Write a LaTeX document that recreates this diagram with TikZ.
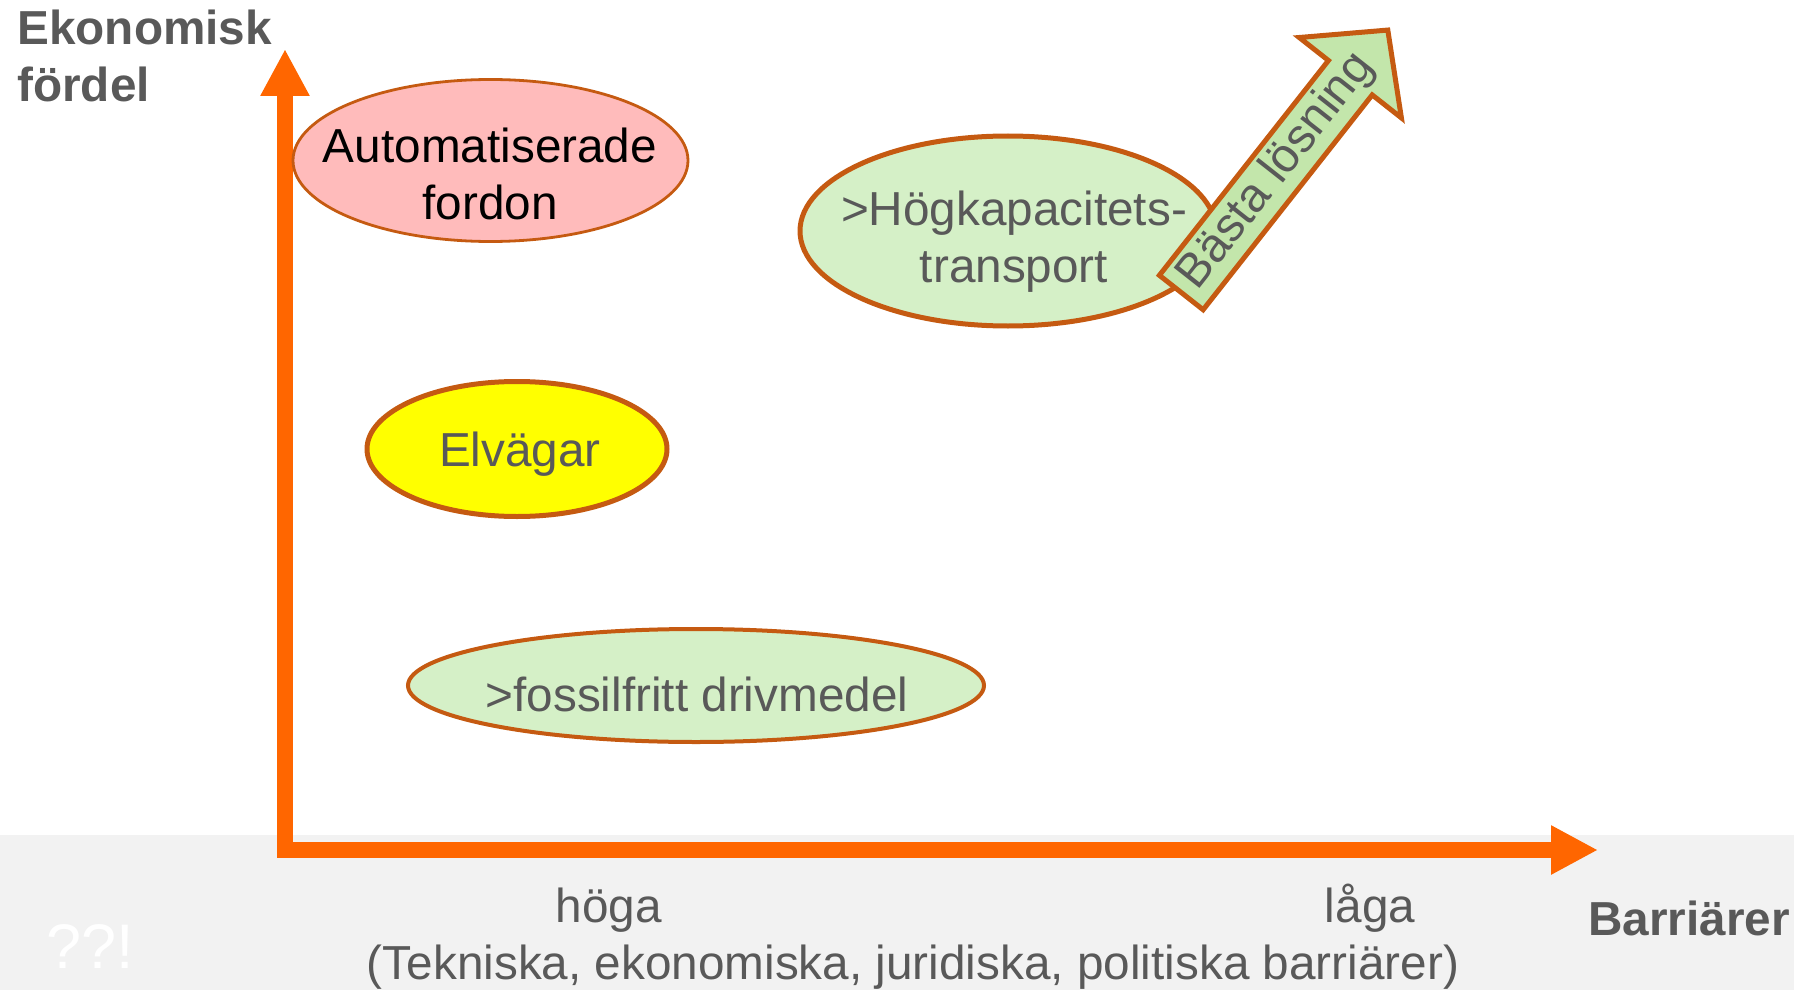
\documentclass[tikz,border=0pt]{standalone}
\usepackage{fontspec}
\setmainfont{Liberation Sans}
\usetikzlibrary{arrows.meta,shapes.geometric,shapes.arrows}

\definecolor{axisorange}{HTML}{FF6600}
\definecolor{rim}{HTML}{C55A11}
\definecolor{textgray}{HTML}{595959}
\definecolor{band}{HTML}{F2F2F2}
\definecolor{pinkfill}{HTML}{FFBBBB}
\definecolor{greenfill}{HTML}{D5F0C7}
\definecolor{arrowgreen}{HTML}{C3E6AB}
\definecolor{yellowfill}{HTML}{FFFF00}

\tikzset{
  axisline/.style={line width=8pt, draw=axisorange, line join=miter,
    {Triangle[length=23.5pt,width=23pt]}-{Triangle[length=23.5pt,width=23pt]}},
  bubble/.style={ellipse, draw=rim, inner sep=0pt},
  txt/.style={text=textgray, inner sep=0pt, font=\fontsize{23.85}{28.5}\selectfont},
  bestarrow/.style={single arrow, draw=rim, line width=2.5pt, fill=arrowgreen,
    rotate=51.8, minimum height=167pt, minimum width=65pt, single arrow head extend=16.5pt,
    single arrow tip angle=94, inner xsep=0pt, inner ysep=4.8pt, txt}
}

\begin{document}
\begin{tikzpicture}[x=0.5pt,y=-0.5pt]
  \useasboundingbox (0,0) rectangle (1794,990);
  \fill[band] (0,835) rectangle (1794,990);

  % axes
  \coordinate (ytip) at (285,49);
  \coordinate (origin) at (285,850);
  \coordinate (xtip) at (1598,850);
  \draw[axisline] (ytip) -- (origin) -- (xtip);

  \node[txt, font=\fontsize{23.85}{28.5}\selectfont\bfseries, align=left, anchor=west]
    (yname) at (17,56) {Ekonomisk\\fördel};
  \node[txt, font=\fontsize{23.85}{28.5}\selectfont\bfseries, anchor=base west]
    (xname) at (1588,935) {Barriärer};
  \node[txt, anchor=base] (hoga) at (609,922) {höga};
  \node[txt, anchor=base] (laga) at (1370,922) {låga};
  \node[txt, anchor=base] (barriarer) at (913,979)
    {(Tekniska, ekonomiska, juridiska, politiska barriärer)};
  \node[txt, text=white, font=\fontsize{31.5}{36}\selectfont, anchor=base west]
    (qmarks) at (46,968) {??!};

  % ellipses
  \node[bubble, fill=pinkfill, line width=1.4pt, minimum width=197.5pt, minimum height=81pt]
    (autofordon) at (490.5,160.5) {};
  \node[txt, text=black, align=center] (autofordon-text) at (490,174) {Automatiserade\\fordon};

  \node[bubble, fill=greenfill, line width=2.5pt, minimum width=208pt, minimum height=95pt]
    (hogkap) at (1008,231) {};
  \node[txt, align=center] (hogkap-text) at (1014,242) {>Högkapacitets-\\transport};

  \node[bubble, fill=yellowfill, line width=2.5pt, minimum width=150pt, minimum height=67.5pt]
    (elvagar) at (517,449) {};
  \node[txt, anchor=base] (elvagar-text) at (520,466) {Elvägar};

  \node[bubble, fill=greenfill, line width=2pt, minimum width=288pt, minimum height=56.5pt]
    (fossil) at (696,685.5) {};
  \node[txt, anchor=base] (fossil-text) at (697,711) {>fossilfritt drivmedel};

  % best solution
  \node[bestarrow] (basta) at (1276.5,171.5) {Bästa lösning};
\end{tikzpicture}
\end{document}
